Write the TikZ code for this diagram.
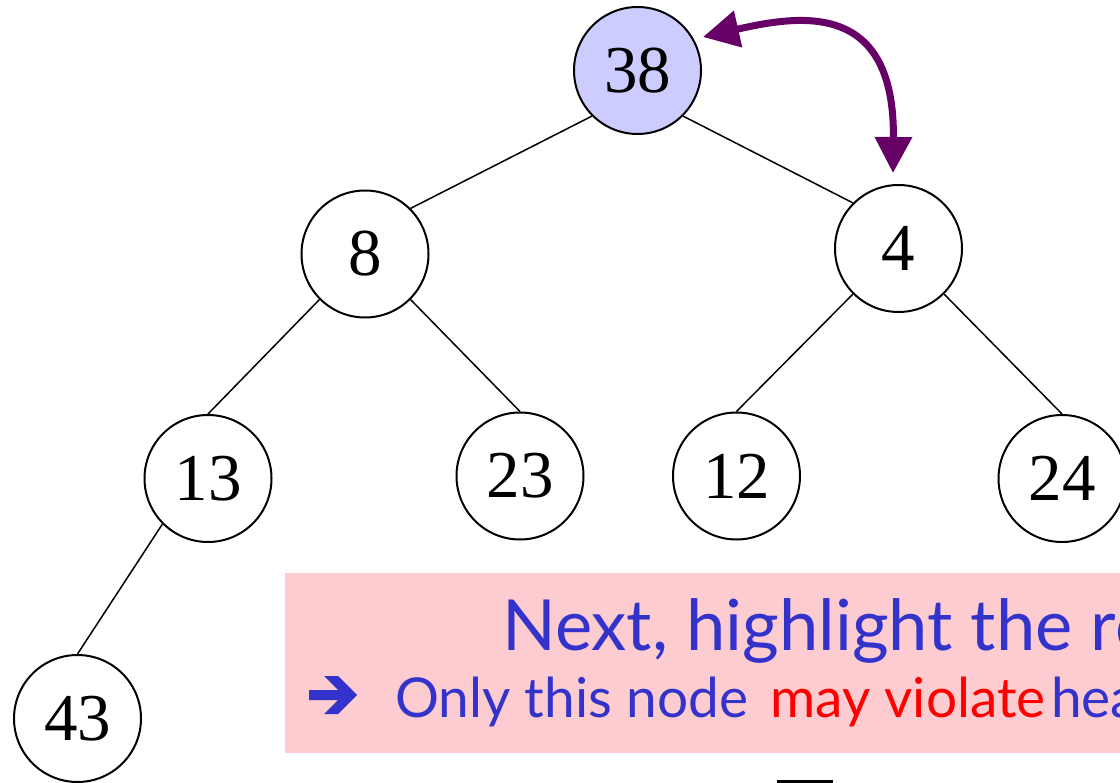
\documentclass[tikz,border=0pt]{standalone}
\usepackage{fontspec}
\setmainfont{Liberation Serif}
\newfontfamily\notefont{Lato}
\usetikzlibrary{arrows.meta}
\definecolor{notepink}{RGB}{252,204,208}
\definecolor{noteblue}{RGB}{51,51,204}
\definecolor{alertred}{RGB}{255,0,0}
\definecolor{rootfill}{RGB}{204,204,255}
\definecolor{swappurple}{RGB}{102,0,102}

\begin{document}
\begin{tikzpicture}[x=1pt,y=-1pt,
  heapnode/.style={circle,draw=black,line width=2pt,minimum size=127pt,
    inner sep=0pt,fill=white,font=\fontsize{67}{67}\selectfont},
  rootnode/.style={heapnode,fill=rootfill},
  treeedge/.style={draw=black,line width=1.5pt},
  swaparrow/.style={draw=swappurple,line width=7pt,
    {Triangle[length=36pt,width=36pt]}-{Triangle[length=36pt,width=36pt]}},
  notebox/.style={fill=notepink,draw=none},
  headline/.style={anchor=base west,inner sep=0pt,text=noteblue,
    font=\notefont\fontsize{70.5}{70.5}\selectfont},
  subline/.style={anchor=base west,inner sep=0pt,text=noteblue,
    font=\notefont\fontsize{55}{55}\selectfont},
]
\useasboundingbox (0,0) rectangle (1120,783);
\clip (0,0) rectangle (1120,783);

% heap nodes
\node[rootnode] (n38) at (637.5,70.5) {38};
\node[heapnode] (n8)  at (365,254)    {8};
\node[heapnode] (n4)  at (898.5,248.5) {4};
\node[heapnode] (n13) at (208,478.5)  {13};
\node[heapnode] (n23) at (520,476)    {23};
\node[heapnode] (n12) at (736.5,476)  {12};
\node[heapnode] (n24) at (1062,478.5) {24};
\node[heapnode] (n43) at (77.5,718.5) {43};

% tree edges
\draw[treeedge] (n38.225) -- (n8.45);
\draw[treeedge] (n38.315) -- (n4.135);
\draw[treeedge] (n8.225) -- (n13.90);
\draw[treeedge] (n8.315) -- (n23.90);
\draw[treeedge] (n4.225) -- (n12.90);
\draw[treeedge] (n4.315) -- (n24.90);
\draw[treeedge] (n13.225) -- (n43.90);

% swap indicator between root and right child
\coordinate (swapA) at (703,37);
\coordinate (swapB) at (893,173);
\draw[swaparrow] (swapA) .. controls (800,15) and (895,0) .. (swapB);

% note box
\path[notebox] (285,573) rectangle (1130,753);
\node[headline] (head) at (502,650) {Next, highlight the root};
\fill[noteblue] (309,690) -- (338,690) -- (324,676) -- (338,676) -- (357,695)
  -- (338,714) -- (324,714) -- (338,700) -- (309,700) -- cycle;
\node[subline] (only) at (395,717) {Only this node};
\node[subline,text=alertred] (may) at (770,717) {may violate};
\node[subline] (heap) at (1051,717) {heap};

% partial bar at the lower edge
\fill[black] (777,780) rectangle (833,784);
\end{tikzpicture}
\end{document}
